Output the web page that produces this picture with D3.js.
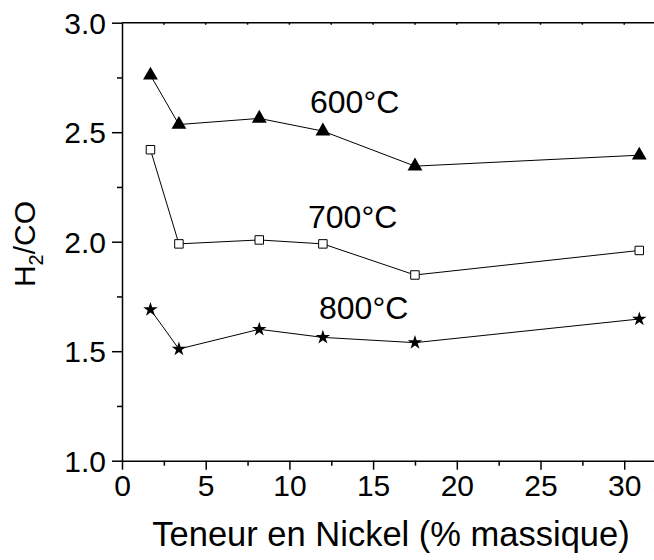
<!DOCTYPE html>
<html><head><meta charset="utf-8">
<script src="https://cdn.jsdelivr.net/npm/d3@7"></script>
<style>body{margin:0;background:#fff}svg{display:block}text{font-family:"Liberation Sans",Arial,sans-serif}</style>
</head><body><svg id="c" width="654" height="560"></svg>
<script>
const nickel = [1.7, 3.4, 8.2, 12.0, 17.5, 30.9];
const h2co600 = [2.76, 2.535, 2.563, 2.505, 2.345, 2.395];
const h2co700 = [2.42, 1.99, 2.008, 1.99, 1.848, 1.96];
const h2co800 = [1.69, 1.51, 1.60, 1.563, 1.539, 1.647];
const seriesLabels = ["600°C", "700°C", "800°C"];
const xTicks = [0, 5, 10, 15, 20, 25, 30];
const yTicks = [1.0, 1.5, 2.0, 2.5, 3.0];
const xTitle = "Teneur en Nickel (% massique)";

const FF = "Liberation Sans, Arial, sans-serif";
const svg = d3.select("#c");
const x = d3.scaleLinear().domain([0, 32]).range([122, 657.7]);
const y = d3.scaleLinear().domain([1.0, 3.0]).range([460.7, 22.7]);

const g = svg.append("g");
g.append("line").attr("x1",122).attr("x2",654).attr("y1",y(3)).attr("y2",y(3)).attr("stroke","#000").attr("stroke-width",1.5);
g.selectAll(".tt").data(d3.range(2.5,32,2.5)).enter().append("line")
 .attr("x1",d=>x(d)).attr("x2",d=>x(d)).attr("y1",y(3)).attr("y2",y(3)+2).attr("stroke","#000").attr("stroke-width",1.5);

const xa = g.append("g").attr("transform",`translate(0,${y(1)})`)
 .call(d3.axisBottom(x).tickValues(xTicks).tickFormat(d3.format("d")).tickSize(9).tickPadding(5).tickSizeOuter(0));
xa.select(".domain").attr("stroke-width",1.5);
xa.selectAll(".tick line").attr("stroke-width",1.5);
xa.selectAll("text").attr("font-size",30).attr("fill","#000").attr("font-family",FF);
g.append("g").attr("transform",`translate(0,${y(1)})`)
 .call(d3.axisBottom(x).tickValues(d3.range(2.5,32,5)).tickFormat("").tickSize(5).tickSizeOuter(0))
 .call(s=>{s.select(".domain").remove();s.selectAll("line").attr("stroke-width",1.5);});

const ya = g.append("g").attr("transform",`translate(${x(0)},0)`)
 .call(d3.axisLeft(y).tickValues(yTicks).tickFormat(d3.format(".1f")).tickSize(10).tickPadding(6).tickSizeOuter(0));
ya.select(".domain").attr("stroke-width",1.5);
ya.selectAll(".tick line").attr("stroke-width",1.5);
ya.selectAll("text").attr("font-size",30).attr("fill","#000").attr("font-family",FF).attr("dy","0.35em");
g.append("g").attr("transform",`translate(${x(0)},0)`)
 .call(d3.axisLeft(y).tickValues(d3.range(1.25,3,0.5)).tickFormat("").tickSize(5).tickSizeOuter(0))
 .call(s=>{s.select(".domain").remove();s.selectAll("line").attr("stroke-width",1.5);});

svg.append("text").attr("x",391).attr("y",546).attr("text-anchor","middle").attr("font-size",34.5).text(xTitle);
const yt = svg.append("text").attr("transform","translate(35,244) rotate(-90)").attr("text-anchor","middle").attr("font-size",30);
yt.append("tspan").text("H");
yt.append("tspan").attr("font-size",20).attr("dy",8).text("2");
yt.append("tspan").attr("dy",-8).text("/CO");

const line = d3.line().x((d,i)=>x(nickel[i])).y(d=>y(d));
[h2co600, h2co700, h2co800].forEach(s=>{
  svg.append("path").attr("d",line(s)).attr("fill","none").attr("stroke","#000").attr("stroke-width",1);
});
const tri = d3.symbol().type(d3.symbolTriangle).size(95);
const sq = d3.symbol().type(d3.symbolSquare).size(72);
const star = d3.symbol().type(d3.symbolStar).size(65);
svg.selectAll(".p6").data(h2co600).enter().append("path").attr("d",tri)
 .attr("transform",(d,i)=>`translate(${x(nickel[i])},${y(d)})`).attr("fill","#000");
svg.selectAll(".p7").data(h2co700).enter().append("path").attr("d",sq)
 .attr("transform",(d,i)=>`translate(${x(nickel[i])},${y(d)})`).attr("fill","#fff").attr("stroke","#000").attr("stroke-width",1);
svg.selectAll(".p8").data(h2co800).enter().append("path").attr("d",star)
 .attr("transform",(d,i)=>`translate(${x(nickel[i])},${y(d)})`).attr("fill","#000");

const labPos = [[310,113],[308,228],[319,319]];
seriesLabels.forEach((t,i)=>{
  svg.append("text").attr("x",labPos[i][0]).attr("y",labPos[i][1]).attr("font-size",32).text(t);
});
</script></body></html>
